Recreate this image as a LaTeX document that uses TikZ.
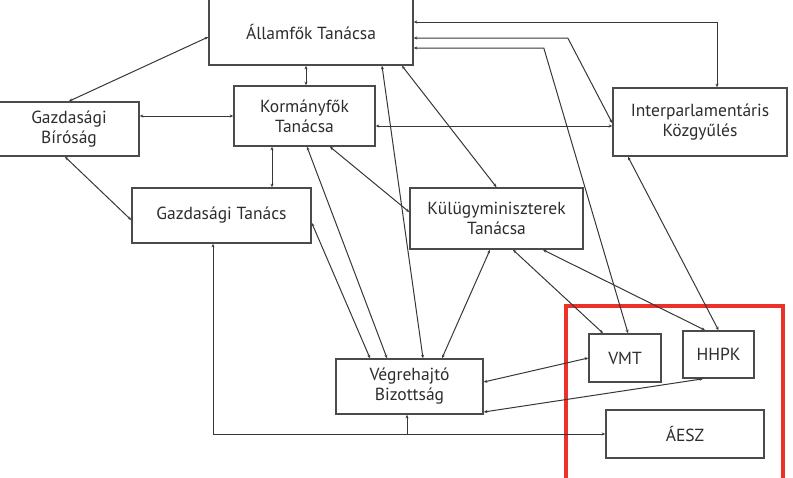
\documentclass[tikz,border=0pt]{standalone}
\usepackage{fontspec}
\setmainfont{PT Sans}
\usetikzlibrary{arrows.meta}
\definecolor{boxgray}{RGB}{75,75,75}
\definecolor{linegray}{RGB}{55,55,55}
\definecolor{txtgray}{RGB}{45,45,45}
\definecolor{framered}{RGB}{236,50,40}

\begin{document}
\begin{tikzpicture}[x=1pt, y=-1pt, >={Stealth[length=3.5pt,width=3pt]}, font=\fontsize{17.5}{20}\selectfont]
  \tikzset{
    box/.style={draw=boxgray, line width=1.6pt, fill=white, text=txtgray, inner sep=2pt, align=center},
    link/.style={draw=linegray, line width=1pt}
  }
  \useasboundingbox (0,0) rectangle (793,477);

  % Red frame
  \draw[framered, line width=3.6pt] (566,306) rectangle (783,486);

  % Bodies
  \node[box, minimum width=204pt, minimum height=67pt] (allamfok)   at (311,31.5)  {Államfők Tanácsa};
  \node[box, minimum width=140pt, minimum height=54pt] (birosag)    at (69,129)    {Gazdasági\\Bíróság};
  \node[box, minimum width=141pt, minimum height=60pt] (kormanyfok) at (304.5,116) {Kormányfők\\Tanácsa};
  \node[box, minimum width=174pt, minimum height=68pt] (interparl)  at (700,122)   {Interparlamentáris\\Közgyűlés};
  \node[box, minimum width=179pt, minimum height=55pt] (gazdtanacs) at (221.5,215.5) {Gazdasági Tanács};
  \node[box, minimum width=173pt, minimum height=61pt] (kulugy)     at (496.5,218.5) {Külügyminiszterek\\Tanácsa};
  \node[box, minimum width=147pt, minimum height=55pt] (vegreh)     at (409.5,386.5) {Végrehajtó\\Bizottság};
  \node[box, minimum width=72pt,  minimum height=48pt] (vmt)        at (625,358)   {VMT};
  \node[box, minimum width=71pt,  minimum height=47pt] (hhpk)       at (718.5,354.5) {HHPK};
  \node[box, minimum width=158pt, minimum height=48pt] (aesz)       at (685,434)   {ÁESZ};

  % Links from Allamfok Tanacsa
  \draw[link,<->] ([yshift=-5.5pt]allamfok.west) -- (birosag.north);
  \draw[link,<->] ([xshift=-5pt]allamfok.south) -- ([xshift=-5pt]allamfok.south |- kormanyfok.north);
  \draw[link,<->] ([yshift=9.5pt]allamfok.east) -| ([xshift=17pt]interparl.north);
  \draw[link,<->] ([yshift=-6.5pt]allamfok.east) -- ++(154,0) -- ([yshift=-1pt]interparl.west);
  \draw[link,<->] ([yshift=-16.5pt]allamfok.east) -- ++(130,0) -- ([xshift=3pt]vmt.north);
  \draw[link,<->] ([xshift=71pt]allamfok.south) -- ([xshift=13.5pt]vegreh.north);
  \draw[link,<->] ([xshift=91pt]allamfok.south) -- (kulugy.north);

  % Links from Kormanyfok Tanacsa
  \draw[link,<->] (kormanyfok.west -| birosag.east) -- (kormanyfok.west);
  \draw[link,<->] ([yshift=-10pt]kormanyfok.east) -- ([yshift=-10pt]kormanyfok.east -| interparl.west);
  \draw[link,<->] ([xshift=-32.5pt]kormanyfok.south) -- ([xshift=-32.5pt]kormanyfok.south |- gazdtanacs.north);
  \draw[link,<->] ([xshift=2.5pt]kormanyfok.south) -- ([xshift=-22.5pt]vegreh.north);
  \draw[link,<->] ([xshift=25.5pt]kormanyfok.south) -- ([yshift=6.5pt]kulugy.west);

  % Gazdasagi bodies
  \draw[link,<->] ([xshift=-4pt]birosag.south) -- ([yshift=-4.5pt]gazdtanacs.west);
  \draw[link,<->] ([yshift=-7.5pt]gazdtanacs.east) -- ([xshift=-39.5pt]vegreh.north);
  \draw[link,<->] ([xshift=-8.5pt]gazdtanacs.south) |- (aesz.west);
  \draw[link,<-] ([xshift=-2.5pt]vegreh.south) -- ([xshift=-2.5pt]vegreh.south |- aesz.west);

  % Kulugyminiszterek Tanacsa
  \draw[link,<->] ([xshift=-6.5pt]kulugy.south) -- ([xshift=32.5pt]vegreh.north);
  \draw[link,<->] ([xshift=16.5pt]kulugy.south) -- ([xshift=-22pt]vmt.north);
  \draw[link,<->] ([xshift=46.5pt]kulugy.south) -- ([xshift=-13.5pt]hhpk.north);

  % VMT, HHPK
  \draw[link,<->] ([xshift=-72pt]interparl.south) -- (hhpk.north);
  \draw[link,<->] ([yshift=4.5pt]vegreh.east) -- (vmt.west);
  \draw[link,<->] ([yshift=-25.5pt]vegreh.east) -- ([xshift=-15.5pt]hhpk.south);

\end{tikzpicture}
\end{document}
